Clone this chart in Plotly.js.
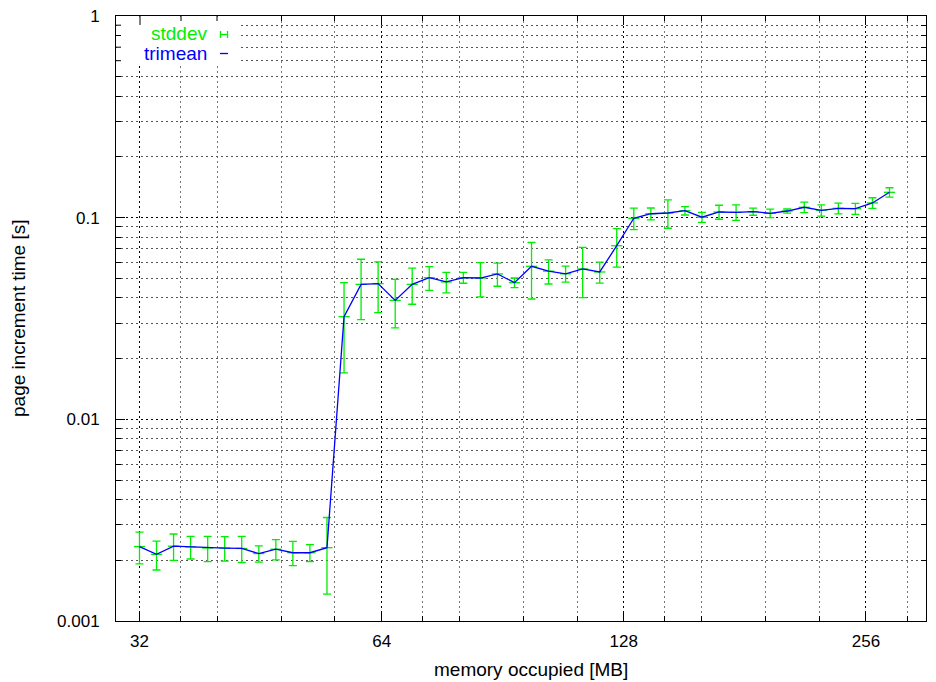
<!DOCTYPE html>
<html>
<head>
<meta charset="utf-8">
<script src="https://cdn.plot.ly/plotly-3.0.1.min.js"></script>
<style>html,body{margin:0;padding:0;background:#fff}#chart{width:936px;height:682px}</style>
</head>
<body>
<div id="chart"></div>
<script>
// memory occupied [MB]
const memoryMB = [32, 33.6, 35.28, 37.04, 38.9, 40.84, 42.88, 45.03, 47.28, 49.64, 52.12, 54.73,
  57.47, 60.34, 63.36, 66.53, 69.85, 73.34, 77.01, 80.86, 84.91, 89.15, 93.61, 98.29, 103.2, 108.36, 113.78, 119.47,
  125.44, 131.72, 138.3, 145.22, 152.48, 160.1, 168.11, 176.51, 185.34, 194.6, 204.34, 214.55, 225.28, 236.54, 248.37, 260.79, 273.83];
// page increment time [s] (trimean)
const trimean = [0.00234, 0.00214, 0.00235, 0.00233, 0.0023, 0.0023, 0.00229, 0.00216, 0.00227, 0.00218, 0.00218, 0.00231,
  0.0323, 0.0467, 0.0471, 0.0389, 0.0467, 0.0504, 0.048, 0.0504, 0.0502, 0.0526, 0.0476, 0.0574, 0.0543, 0.0527, 0.0557, 0.0538,
  0.0726, 0.0993, 0.1046, 0.1055, 0.1083, 0.1005, 0.1067, 0.1063, 0.1071, 0.1051, 0.1079, 0.1126, 0.1088, 0.1113, 0.1108, 0.1183, 0.1336];
// standard deviation [s]
const stddev = [0.00042, 0.00035, 0.00035, 0.0003, 0.00033, 0.00032, 0.00034, 0.0002, 0.00026, 0.0003, 0.00021, 0.00095,
  0.0153, 0.0155, 0.0133, 0.0105, 0.0095, 0.0068, 0.0056, 0.0031, 0.0097, 0.0069, 0.0026, 0.0179, 0.0074, 0.0048, 0.0156, 0.0064,
  0.0157, 0.0121, 0.0071, 0.0169, 0.0052, 0.0057, 0.0085, 0.0094, 0.0043, 0.0051, 0.0025, 0.0067, 0.007, 0.0068, 0.007, 0.0072, 0.0071];

const xTickVals = [32, 64, 128, 256];
const xTickText = ['32', '64', '128', '256'];
const xMinorVals = [36, 40, 48, 56, 72, 80, 96, 112, 144, 160, 192, 224, 288];
const yTickVals = [0.001, 0.01, 0.1, 1];
const yTickText = ['0.001', '0.01', '0.1', '1'];
const yMinorVals = [0.002, 0.003, 0.004, 0.005, 0.006, 0.007, 0.008, 0.009,
  0.02, 0.03, 0.04, 0.05, 0.06, 0.07, 0.08, 0.09,
  0.2, 0.3, 0.4, 0.5, 0.6, 0.7, 0.8, 0.9];

const GREEN = '#00ee00';
const BLUE = '#0000ff';
const FONT = 'Liberation Sans, Arial, sans-serif';

// plot area in pixels: left 116, right 926, top 16, bottom 621
const L = 116, R = 926, T = 16, B = 621;
const px = v => (v - L) / (R - L);
const py = v => (B - v) / (B - T);

const traces = [
  {
    x: memoryMB, y: trimean, name: 'stddev', type: 'scatter', mode: 'markers',
    marker: {symbol: 'line-ew', size: 8, color: GREEN, line: {color: GREEN, width: 1.3}},
    error_y: {type: 'data', array: stddev, visible: true, color: GREEN, thickness: 1.3, width: 4},
    showlegend: false, hoverinfo: 'skip'
  },
  {
    x: memoryMB, y: trimean, name: 'trimean', type: 'scatter', mode: 'lines',
    line: {color: BLUE, width: 1.3}, showlegend: false
  }
];

const gridDash = '2px,3px';

// key box and the axis ticks that show on top of it
const keyShapes = [
  {type: 'rect', xref: 'paper', yref: 'paper', x0: px(116.6), x1: px(239), y0: py(64), y1: py(16.6),
   fillcolor: '#fff', line: {width: 0}, layer: 'above'}
];
[25.2, 35.5, 47.2, 60.7].forEach(yy => keyShapes.push(
  {type: 'line', xref: 'paper', yref: 'paper', x0: px(116), x1: px(121), y0: py(yy), y1: py(yy), line: {color: '#000', width: 1}, layer: 'above'}));
keyShapes.push({type: 'line', xref: 'paper', yref: 'paper', x0: px(140), x1: px(140), y0: py(16), y1: py(25), line: {color: '#000', width: 1}, layer: 'above'});
[181, 217].forEach(xx => keyShapes.push(
  {type: 'line', xref: 'paper', yref: 'paper', x0: px(xx), x1: px(xx), y0: py(16), y1: py(21), line: {color: '#000', width: 1}, layer: 'above'}));
// key samples
keyShapes.push(
  {type: 'line', xref: 'paper', yref: 'paper', x0: px(220), x1: px(228), y0: py(34.5), y1: py(34.5), line: {color: GREEN, width: 1.3}, layer: 'above'},
  {type: 'line', xref: 'paper', yref: 'paper', x0: px(220.5), x1: px(220.5), y0: py(31), y1: py(38), line: {color: GREEN, width: 1.3}, layer: 'above'},
  {type: 'line', xref: 'paper', yref: 'paper', x0: px(227.5), x1: px(227.5), y0: py(31), y1: py(38), line: {color: GREEN, width: 1.3}, layer: 'above'},
  {type: 'line', xref: 'paper', yref: 'paper', x0: px(220), x1: px(228), y0: py(53.5), y1: py(53.5), line: {color: BLUE, width: 1.3}, layer: 'above'}
);

const layout = {
  width: 936, height: 682,
  margin: {l: L, r: 936 - R, t: T, b: 682 - B},
  paper_bgcolor: '#fff', plot_bgcolor: '#fff',
  font: {family: FONT, size: 17, color: '#000'},
  showlegend: false,
  xaxis: {
    type: 'log', range: [Math.log10(29.92), Math.log10(304)],
    tickmode: 'array', tickvals: xTickVals, ticktext: xTickText,
    tickfont: {family: FONT, size: 17},
    ticks: 'inside', ticklen: 9, tickwidth: 1, tickcolor: '#000',
    showline: true, linecolor: '#000', linewidth: 1, mirror: 'allticks',
    showgrid: true, gridcolor: '#000', gridwidth: 1, griddash: gridDash,
    zeroline: false, ticklabelstandoff: 5,
    minor: {tickvals: xMinorVals, ticks: 'inside', ticklen: 5, tickcolor: '#000', tickwidth: 1,
            showgrid: true, gridcolor: '#777', gridwidth: 1, griddash: gridDash}
  },
  yaxis: {
    type: 'log', range: [-3, 0],
    tickmode: 'array', tickvals: yTickVals, ticktext: yTickText,
    tickfont: {family: FONT, size: 17},
    ticks: 'inside', ticklen: 9, tickwidth: 1, tickcolor: '#000',
    showline: true, linecolor: '#000', linewidth: 1, mirror: 'allticks',
    showgrid: true, gridcolor: '#000', gridwidth: 1, griddash: gridDash,
    zeroline: false, ticklabelstandoff: 12,
    minor: {tickvals: yMinorVals, ticks: 'inside', ticklen: 5, tickcolor: '#000', tickwidth: 1,
            showgrid: true, gridcolor: '#555', gridwidth: 1, griddash: gridDash}
  },
  shapes: keyShapes,
  annotations: [
    {text: 'stddev', xref: 'paper', yref: 'paper', x: px(209), y: py(34), xanchor: 'right', yanchor: 'middle',
     showarrow: false, font: {family: FONT, size: 19, color: GREEN}},
    {text: 'trimean', xref: 'paper', yref: 'paper', x: px(209), y: py(53.5), xanchor: 'right', yanchor: 'middle',
     showarrow: false, font: {family: FONT, size: 19, color: BLUE}},
    {text: 'memory occupied [MB]', xref: 'paper', yref: 'paper', x: px(531), y: py(669), xanchor: 'center', yanchor: 'middle',
     showarrow: false, font: {family: FONT, size: 19, color: '#000'}},
    {text: 'page increment time [s]', xref: 'paper', yref: 'paper', x: px(18), y: py(319), xanchor: 'center', yanchor: 'middle',
     textangle: -90, showarrow: false, font: {family: FONT, size: 19, color: '#000'}}
  ]
};

Plotly.newPlot('chart', traces, layout, {staticPlot: true, displayModeBar: false});
</script>
</body>
</html>
